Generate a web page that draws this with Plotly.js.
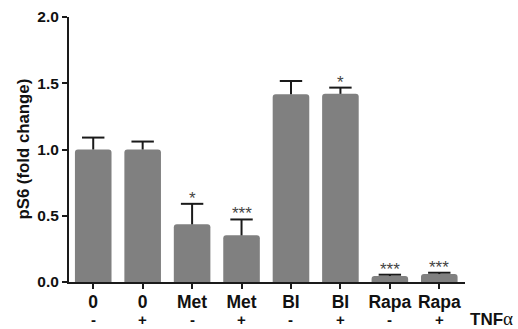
<!DOCTYPE html>
<html>
<head>
<meta charset="utf-8">
<script src="https://cdn.plot.ly/plotly-3.0.1.min.js"></script>
<style>html,body{margin:0;padding:0;background:#fff;}#chart{width:518px;height:329px;}</style>
</head>
<body>
<div id="chart"></div>
<script>
const categories = ["0", "0", "Met", "Met", "BI", "BI", "Rapa", "Rapa"];
const tnf = ["-", "+", "-", "+", "-", "+", "-", "+"];
const values = [1.00, 1.00, 0.435, 0.352, 1.417, 1.420, 0.045, 0.060];
const errors = [0.090, 0.060, 0.155, 0.120, 0.100, 0.047, 0.010, 0.010];
const stars = ["", "", "*", "***", "", "*", "***", "***"];
const yTicks = [0, 0.5, 1.0, 1.5, 2.0];
const yTickText = ["0.0", "0.5", "1.0", "1.5", "2.0"];
const yTitle = "pS6 (fold change)";

const FONT = "Liberation Sans, Arial, sans-serif";
const DARK = "#1a1a1a";
const pos = categories.map((c, i) => i);
const tops = values.map((v, i) => v + errors[i]);

const bars = {
  type: "bar",
  x: pos,
  y: values,
  width: 0.74,
  marker: {color: "#808080", line: {width: 0}, cornerradius: 3},
  error_y: {type: "data", array: errors, arrayminus: errors.map(() => 0), symmetric: false,
            color: DARK, thickness: 2, width: 0},
  hoverinfo: "none"
};

const caps = {
  type: "scatter",
  mode: "markers",
  x: pos,
  y: tops,
  marker: {symbol: "line-ew", size: 16, color: DARK, line: {color: DARK, width: 2}},
  hoverinfo: "none",
  cliponaxis: false
};

const annotations = [];
tnf.forEach((t, i) => {
  annotations.push({x: pos[i], y: -0.141, xref: "x", yref: "paper", text: t, showarrow: false,
    xanchor: "center", yanchor: "middle", font: {family: FONT, size: 15, color: "#111", weight: 700}});
});
stars.forEach((s, i) => {
  if (!s) return;
  annotations.push({x: pos[i], y: tops[i], xref: "x", yref: "y", text: s, showarrow: false,
    xanchor: "center", yanchor: "bottom", yshift: -6, font: {family: FONT, size: 17, color: "#444"}});
});
annotations.push({x: 1.008, y: -0.139, xref: "paper", yref: "paper",
  text: "TNF<span style=\"font-family:Liberation Serif;font-weight:normal;font-size:19px\">α</span>", showarrow: false,
  xanchor: "left", yanchor: "middle", font: {family: FONT, size: 17, color: "#111", weight: 700}});
annotations.push({x: -0.116, y: 0.5, xref: "paper", yref: "paper", text: yTitle, textangle: -90,
  showarrow: false, xanchor: "center", yanchor: "middle",
  font: {family: FONT, size: 16.8, color: "#111", weight: 700}});

const layout = {
  width: 518, height: 329,
  margin: {l: 69, r: 53, t: 17, b: 47, pad: 0},
  paper_bgcolor: "#fff", plot_bgcolor: "#fff",
  showlegend: false,
  font: {family: FONT, color: "#111"},
  xaxis: {
    range: [-0.49, 7.52], tickvals: pos, ticktext: categories,
    showline: true, linecolor: DARK, linewidth: 2,
    ticks: "outside", ticklen: 5, tickwidth: 2, tickcolor: DARK,
    ticklabelstandoff: -2,
    showgrid: false, zeroline: false, fixedrange: true,
    tickfont: {family: FONT, size: 17.5, color: "#111", weight: 700}
  },
  yaxis: {
    range: [0, 2.0], tickvals: yTicks, ticktext: yTickText,
    showline: true, linecolor: DARK, linewidth: 2,
    ticks: "outside", ticklen: 5, tickwidth: 2, tickcolor: DARK,
    showgrid: false, zeroline: false, fixedrange: true,
    tickfont: {family: FONT, size: 15.5, color: "#111", weight: 700}
  },
  annotations: annotations
};

Plotly.newPlot("chart", [bars, caps], layout, {displayModeBar: false, staticPlot: true});
</script>
</body>
</html>
